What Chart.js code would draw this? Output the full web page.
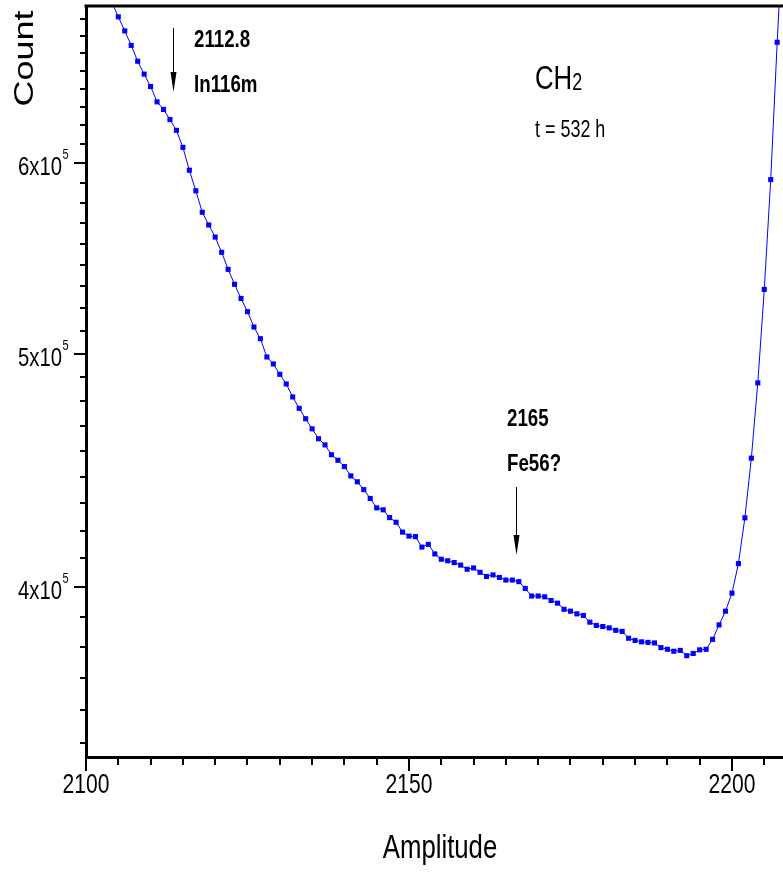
<!DOCTYPE html>
<html>
<head>
<meta charset="utf-8">
<script src="https://cdn.jsdelivr.net/npm/chart.js@4.4.1/dist/chart.umd.min.js"></script>
<style>
  html, body { margin: 0; padding: 0; background: #fff; }
  #wrap { width: 783px; height: 872px; }
</style>
</head>
<body>
<div id="wrap"><canvas id="grafico"></canvas></div>
<script>
// canais (Amplitude) e contagens
const canais = [
  2104, 2105, 2106, 2107, 2108, 2109, 2110, 2111, 2112, 2113, 2114, 2115, 2116, 2117, 2118, 2119,
  2120, 2121, 2122, 2123, 2124, 2125, 2126, 2127, 2128, 2129, 2130, 2131, 2132, 2133, 2134, 2135,
  2136, 2137, 2138, 2139, 2140, 2141, 2142, 2143, 2144, 2145, 2146, 2147, 2148, 2149, 2150, 2151,
  2152, 2153, 2154, 2155, 2156, 2157, 2158, 2159, 2160, 2161, 2162, 2163, 2164, 2165, 2166, 2167,
  2168, 2169, 2170, 2171, 2172, 2173, 2174, 2175, 2176, 2177, 2178, 2179, 2180, 2181, 2182, 2183,
  2184, 2185, 2186, 2187, 2188, 2189, 2190, 2191, 2192, 2193, 2194, 2195, 2196, 2197, 2198, 2199,
  2200, 2201, 2202, 2203, 2204, 2205, 2206, 2207, 2208
];
const contagens = [
  700000, 690200, 681000, 671600, 661500, 653400, 645700, 636300, 631700, 625600, 619200, 609200, 596000, 584400, 572500, 565600,
  559100, 551000, 542100, 534400, 527200, 520600, 513000, 507300, 498500, 495200, 490300, 485800, 479800, 474600, 469900, 465400,
  461000, 458300, 454000, 451600, 448900, 444900, 442400, 439100, 435400, 431500, 430700, 427500, 425600, 421600, 420000, 419800,
  415600, 416700, 412900, 410800, 410200, 409500, 408500, 406900, 407400, 405700, 404100, 404700, 403700, 402700, 402700, 402100,
  399500, 396600, 396600, 396300, 394900, 393900, 391600, 390900, 389900, 389300, 386800, 385600, 385200, 384700, 383800, 383400,
  380900, 380100, 379600, 379400, 379200, 377500, 376900, 376200, 376500, 374600, 375400, 376700, 376900, 380500, 385800, 390900,
  397700, 409100, 427400, 452500, 486300, 531800, 590700, 673600, 760000
];

const xMajores = [2100, 2150, 2200];
const xRotulos = ["2100", "2150", "2200"];
const xPassoMenor = 5;
const yMajores = [400000, 500000, 600000];
const yRotulos = ["4x10", "5x10", "6x10"];
const yExpoente = "5";
const yDivisoes = 9;

const anotacoes = [
  { x: 2113.4, y1: 28, y2: 92, linhas: [["2112.8", 194, 47], ["In116m", 194, 92]] },
  { x: 2166.5, y1: 487, y2: 555, linhas: [["2165", 507, 426], ["Fe56?", 507, 471]] }
];

const SX = 0.78;
const FONTE = '"Liberation Sans", Arial, sans-serif';

function texto(ctx, str, x, y, size, bold, align) {
  ctx.save();
  ctx.font = (bold ? "bold " : "") + size + "px " + FONTE;
  ctx.fillStyle = "#000";
  ctx.textBaseline = "alphabetic";
  ctx.textAlign = align || "left";
  ctx.translate(x, y);
  ctx.scale(SX, 1);
  ctx.fillText(str, 0, 0);
  const w = ctx.measureText(str).width * SX;
  ctx.restore();
  return w;
}

const eixosPlugin = {
  id: "eixos",
  afterDraw(chart) {
    const ctx = chart.ctx;
    const area = chart.chartArea;
    const xs = chart.scales.x;
    const ys = chart.scales.y;
    ctx.save();
    ctx.strokeStyle = "#000";

    // borda superior
    ctx.lineWidth = 3;
    ctx.beginPath();
    ctx.moveTo(area.left - 1.5, area.top);
    ctx.lineTo(chart.width, area.top);
    ctx.stroke();

    // ticks do eixo x
    ctx.lineWidth = 2;
    for (let v = xMajores[0]; v <= xs.max; v += xPassoMenor) {
      const px = Math.round(xs.getPixelForValue(v));
      const len = xMajores.includes(v) ? 14 : 8;
      ctx.beginPath();
      ctx.moveTo(px, area.bottom);
      ctx.lineTo(px, area.bottom + len);
      ctx.stroke();
    }

    // ticks do eixo y (maiores e menores)
    const passo = (yMajores[1] - yMajores[0]) / yDivisoes;
    const menores = [];
    for (let k = 1; k < yDivisoes; k++) {
      menores.push(yMajores[0] - k * passo);
      yMajores.forEach(m => menores.push(m + k * passo));
    }
    yMajores.forEach(v => {
      const py = Math.round(ys.getPixelForValue(v));
      ctx.beginPath();
      ctx.moveTo(area.left - 12, py);
      ctx.lineTo(area.left, py);
      ctx.stroke();
    });
    menores.forEach(v => {
      if (v < ys.min || v > ys.max) return;
      const py = Math.round(ys.getPixelForValue(v));
      ctx.beginPath();
      ctx.moveTo(area.left - 6, py);
      ctx.lineTo(area.left, py);
      ctx.stroke();
    });
    ctx.restore();

    // rotulos x
    xMajores.forEach((v, i) => {
      texto(ctx, xRotulos[i], xs.getPixelForValue(v), 793, 27, false, "center");
    });
    // rotulos y com expoente
    yMajores.forEach((v, i) => {
      const py = ys.getPixelForValue(v);
      texto(ctx, yRotulos[i], 62, py + 12, 26, false, "right");
      texto(ctx, yExpoente, 62.5, py - 4, 14, false, "left");
    });

    // titulos
    texto(ctx, "Amplitude", 440, 858, 33, false, "center");
    ctx.save();
    ctx.font = "36px " + FONTE;
    ctx.fillStyle = "#000";
    ctx.textAlign = "center";
    ctx.translate(33, 58.5);
    ctx.scale(SX, 1);
    ctx.rotate(-Math.PI / 2);
    ctx.fillText("Count", 0, 0);
    ctx.restore();

    // anotacoes com setas
    anotacoes.forEach(a => {
      const px = Math.round(xs.getPixelForValue(a.x)) + 0.5;
      ctx.save();
      ctx.strokeStyle = "#000";
      ctx.fillStyle = "#000";
      ctx.lineWidth = 1;
      ctx.beginPath();
      ctx.moveTo(px, a.y1);
      ctx.lineTo(px, a.y2 - 18);
      ctx.stroke();
      ctx.beginPath();
      ctx.moveTo(px - 3, a.y2 - 20);
      ctx.lineTo(px + 3, a.y2 - 20);
      ctx.lineTo(px, a.y2);
      ctx.closePath();
      ctx.fill();
      ctx.restore();
      a.linhas.forEach(l => texto(ctx, l[0], l[1], l[2], 24, true, "left"));
    });

    // CH2 e tempo
    const w = texto(ctx, "CH", 535, 89, 33, false, "left");
    texto(ctx, "2", 535 + w, 90, 23, false, "left");
    texto(ctx, "t = 532 h", 535, 137, 23, false, "left");
  }
};

const ctx = document.getElementById("grafico").getContext("2d");
new Chart(ctx, {
  type: "line",
  data: {
    datasets: [{
      data: canais.map((c, i) => ({ x: c, y: contagens[i] })),
      borderColor: "#0000ff",
      backgroundColor: "#0000ff",
      borderWidth: 1,
      pointStyle: "rect",
      pointRadius: 3.6,
      pointBorderWidth: 0,
      tension: 0,
      fill: false
    }]
  },
  options: {
    responsive: true,
    maintainAspectRatio: false,
    animation: false,
    devicePixelRatio: 1,
    layout: { autoPadding: false, padding: { left: 78, top: 6, right: 0, bottom: 107 } },
    plugins: { legend: { display: false }, tooltip: { enabled: false } },
    scales: {
      x: {
        type: "linear",
        min: 2100,
        max: 2207.9,
        bounds: "data",
        grid: { display: false },
        ticks: { display: false },
        border: { display: true, width: 3, color: "#000" }
      },
      y: {
        type: "logarithmic",
        min: 340000,
        max: 697400,
        bounds: "data",
        grid: { display: false },
        ticks: { display: false },
        border: { display: true, width: 3, color: "#000" }
      }
    }
  },
  plugins: [eixosPlugin]
});
</script>
</body>
</html>
